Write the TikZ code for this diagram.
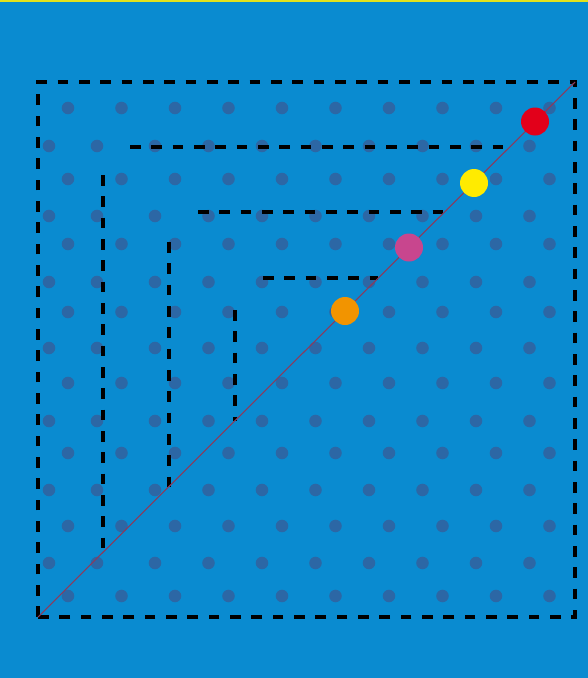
\documentclass[tikz,border=0pt]{standalone}
\usetikzlibrary{calc}
\definecolor{bg}{HTML}{0A8BD0}
\definecolor{topline}{HTML}{E3E21C}
\definecolor{griddot}{HTML}{2C67A5}
\definecolor{diag}{HTML}{8C3A5C}
\definecolor{cred}{HTML}{E2001A}
\definecolor{cyellow}{HTML}{FFEB00}
\definecolor{cmagenta}{HTML}{C8468E}
\definecolor{corange}{HTML}{F29400}
\tikzset{
  gdot/.style={circle, fill=griddot, inner sep=0pt, minimum size=9.4pt},
  bigdot/.style={circle, inner sep=0pt, minimum size=21pt},
  dashline/.style={line width=2.4pt, dash pattern=on 8pt off 8pt, black},
  diagline/.style={line width=0.8pt, diag}
}
\begin{document}
\begin{tikzpicture}[x=0.75pt, y=-0.75pt]
\useasboundingbox (0,0) rectangle (588,678);
\fill[bg] (0,0) rectangle (588,678);
\fill[topline] (0,0) rectangle (588,2);
% grid of dots, row type A
\foreach \yy in {108,179,244,312,383,453,526,596} {
  \foreach \k in {0,...,9} {
    \node[gdot] at ({68+53.5*\k},\yy) {};
  }
}
% grid of dots, row type B
\foreach \yy in {146,216,282,348,421,490,563} {
  \node[gdot] at (49,\yy) {};
  \node[gdot] at (97,\yy) {};
  \foreach \k in {0,...,7} {
    \node[gdot] at ({155+53.5*\k},\yy) {};
  }
}
% frame coordinates
\coordinate (bl) at (38,617);
\coordinate (tr) at (575,82);
\coordinate (tl) at (38,82);
\coordinate (br) at (575,617);
\draw[dashline] (bl) -- (tl) -- (tr) -- (br) -- cycle;
% inner L-shapes
\coordinate (h1a) at (130,147); \coordinate (h1b) at (510,147);
\coordinate (v1a) at (103,175); \coordinate (v1b) at (103,552);
\coordinate (h2a) at (198,212); \coordinate (h2b) at (445,212);
\coordinate (v2a) at (169,242); \coordinate (v2b) at (169,487);
\coordinate (h3a) at (263,278); \coordinate (h3b) at (378,278);
\coordinate (v3a) at (235,310); \coordinate (v3b) at (235,421);
\draw[dashline] (h1a) -- (h1b);
\draw[dashline] (v1a) -- (v1b);
\draw[dashline] (h2a) -- (h2b);
\draw[dashline] (v2a) -- (v2b);
\draw[dashline] (h3a) -- (h3b);
\draw[dashline] (v3a) -- (v3b);
% diagonal
\draw[diagline] (bl) -- (tr);
% coloured dots
\node[bigdot, fill=cred] (red) at (535,121.5) {};
\node[bigdot, fill=cyellow] (yellow) at (474,183) {};
\node[bigdot, fill=cmagenta] (magenta) at (409,247.5) {};
\node[bigdot, fill=corange] (orange) at (345,311) {};
\end{tikzpicture}
\end{document}
